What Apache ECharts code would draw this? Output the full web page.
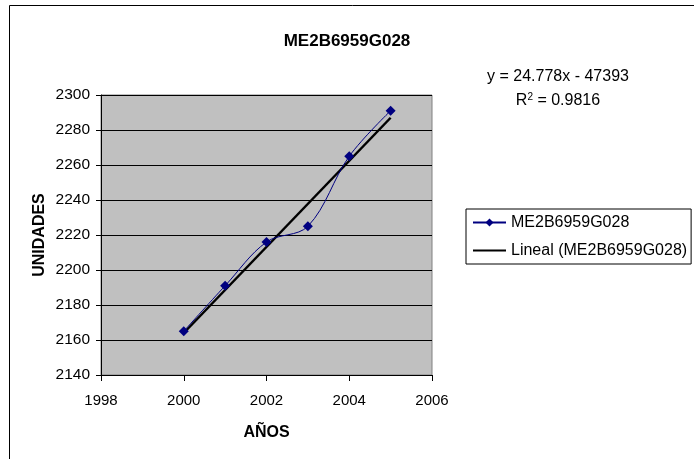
<!DOCTYPE html>
<html>
<head>
<meta charset="utf-8">
<script src="https://cdn.jsdelivr.net/npm/echarts@6/dist/echarts.min.js"></script>
<style>html,body{margin:0;padding:0;background:#fff;}#c{width:694px;height:459px;}</style>
</head>
<body>
<div id="c"></div>
<script>
var years = [2000, 2001, 2002, 2003, 2004, 2005];
var units = [2165, 2191, 2216, 2225, 2265, 2291];
var xTicks = [1998, 2000, 2002, 2004, 2006];
var yTicks = [2140, 2160, 2180, 2200, 2220, 2240, 2260, 2280, 2300];
var seriesName = 'ME2B6959G028';
var trendName = 'Lineal (ME2B6959G028)';
var equationText = 'y = 24.778x - 47393';
var r2Text = '0.9816';

// least-squares trend line from the data (as the spreadsheet does)
var n = years.length, mx = 0, my = 0;
for (var i = 0; i < n; i++) { mx += years[i]; my += units[i]; }
mx /= n; my /= n;
var sxy = 0, sxx = 0;
for (var i = 0; i < n; i++) { sxy += (years[i]-mx)*(units[i]-my); sxx += (years[i]-mx)*(years[i]-mx); }
var slope = sxy / sxx, icpt = my - slope * mx;
var trendX = [years[0], years[n-1]];
var trendData = trendX.map(function(x){ return [x, icpt + slope * x]; });

var chart = echarts.init(document.getElementById('c'), null, {renderer: 'canvas'});
var font = 'Liberation Sans, Arial, sans-serif';
var yMin = yTicks[0], yMax = yTicks[yTicks.length-1];
chart.setOption({
  animation: false,
  textStyle: {fontFamily: font},
  title: {
    text: seriesName, left: 'center', top: 28,
    textStyle: {fontFamily: font, fontSize: 17, fontWeight: 'bold', color: '#000'}
  },
  grid: {
    left: 101, right: 262, top: 95, bottom: 84,
    show: true, backgroundColor: '#C0C0C0', borderColor: '#808080', borderWidth: 1
  },
  xAxis: {
    type: 'value', min: xTicks[0], max: xTicks[xTicks.length-1], interval: 2,
    name: 'AÑOS', nameLocation: 'middle', nameGap: 50,
    nameTextStyle: {fontFamily: font, fontSize: 16, fontWeight: 'bold', color: '#000'},
    axisLine: {show: true, lineStyle: {color: '#000', width: 1}},
    axisTick: {show: true, length: 6, lineStyle: {color: '#000'}},
    axisLabel: {fontFamily: font, fontSize: 15, color: '#000', margin: 18,
      formatter: function(v){ return String(v); }},
    splitLine: {show: false}
  },
  yAxis: [{
    type: 'value', min: yMin, max: yMax, interval: 20,
    name: 'UNIDADES', nameLocation: 'middle', nameGap: 53, nameRotate: 90,
    nameTextStyle: {fontFamily: font, fontSize: 16, fontWeight: 'bold', color: '#000'},
    axisLine: {show: true, lineStyle: {color: '#000', width: 1}},
    axisTick: {show: true, length: 5, lineStyle: {color: '#000'}},
    axisLabel: {fontFamily: font, fontSize: 15.5, color: '#000', margin: 11,
      formatter: function(v){ return String(v); }},
    splitLine: {show: true, lineStyle: {color: '#000', width: 1}}
  }, {
    type: 'value', min: yMin, max: yMax, interval: 20, position: 'left', offset: 0,
    axisLine: {show: false},
    axisTick: {show: true, inside: true, length: 5, lineStyle: {color: '#000'}},
    axisLabel: {show: false},
    splitLine: {show: false}
  }],
  legend: {
    orient: 'vertical', left: 466, top: 209,
    backgroundColor: '#fff', borderColor: '#000', borderWidth: 1, borderRadius: 0,
    padding: [5, 4, 5, 6], itemGap: 11, itemWidth: 33, itemHeight: 10,
    textStyle: {fontFamily: font, fontSize: 16, color: '#000', lineHeight: 17},
    data: [
      {name: seriesName},
      {name: trendName, itemStyle: {opacity: 0}}
    ]
  },
  series: [
    {
      name: seriesName, type: 'line', smooth: 0.35,
      data: years.map(function(y, i){ return [y, units[i]]; }),
      symbol: 'diamond', symbolSize: 10,
      itemStyle: {color: '#000080'},
      lineStyle: {color: '#000080', width: 1},
      z: 3
    },
    {
      name: trendName, type: 'line', data: trendData,
      showSymbol: false, symbol: 'none',
      itemStyle: {color: '#000'},
      lineStyle: {color: '#000', width: 2.5},
      z: 2
    }
  ],
  graphic: [
    {type: 'rect', left: 7, top: 3, shape: {width: 700, height: 470},
     style: {fill: 'none', stroke: '#000', lineWidth: 1}, silent: true, z: -1},
    {type: 'text', x: 558, y: 77, style: {text: equationText, font: '16px ' + font, fill: '#000', align: 'center', verticalAlign: 'middle'}},
    {type: 'text', x: 558, y: 101, style: {
      text: '{n|R}{s|2}{n| = ' + r2Text + '}', align: 'center', verticalAlign: 'middle',
      rich: {n: {fontFamily: font, fontSize: 16, color: '#000'}, s: {fontFamily: font, fontSize: 10, color: '#000', verticalAlign: 'top', padding: [0,0,8,0]}}
    }}
  ]
});
</script>
</body>
</html>
